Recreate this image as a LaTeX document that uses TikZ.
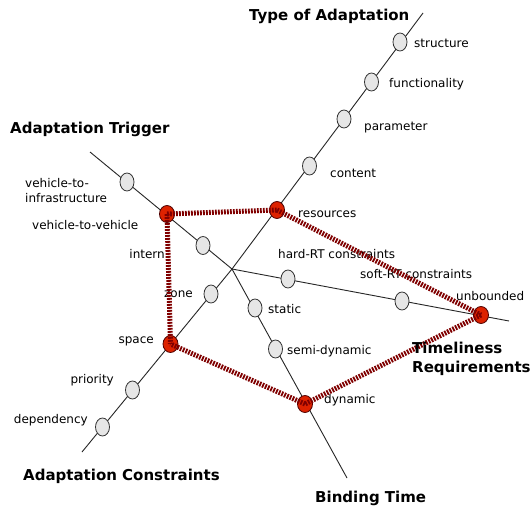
\documentclass[tikz,border=0pt]{standalone}
\usepackage{fontspec}
\setmainfont{DejaVu Sans}
\usetikzlibrary{shapes.geometric}
\definecolor{dred}{HTML}{800000}
\definecolor{rfill}{HTML}{DD2200}
\definecolor{gfill}{HTML}{E6E6E6}
\tikzset{
  ray/.style={draw=black!85, line width=0.9pt},
  gdot/.style={ellipse, draw=black!80, fill=gfill, line width=0.8pt, minimum width=14pt, minimum height=18pt, inner sep=0pt},
  rdot/.style={ellipse, draw=black!70!red, fill=rfill, line width=0.8pt, minimum width=15pt, minimum height=17pt, inner sep=0pt},
  lbl/.style={font=\fontsize{12}{15}\selectfont, inner sep=0pt},
  ttl/.style={font=\bfseries\fontsize{15}{19}\selectfont, inner sep=0pt},
  sel/.style={draw=dred, line width=5pt, dash pattern=on 1.8pt off 1.2pt},
}
\begin{document}
\begin{tikzpicture}[x=1pt,y=-1pt]
\useasboundingbox[fill=white] (0,0) rectangle (532,508);
% axes
\coordinate (c) at (232,269);
\coordinate (eT) at (423,13);
\coordinate (eC) at (82,452);
\coordinate (eG) at (90,152);
\coordinate (eB) at (347,478);
\coordinate (eR) at (509,321);
\draw[ray] (c) -- (eT);
\draw[ray] (c) -- (eC);
\draw[ray] (c) -- (eG);
\draw[ray] (c) -- (eB);
\draw[ray] (c) -- (eR);
% Type of Adaptation
\node[gdot] (structure) at (400,42) {};
\node[gdot] (functionality) at (371.5,82) {};
\node[gdot] (parameter) at (344,119) {};
\node[gdot] (content) at (309.5,166) {};
\node[rdot] (resources) at (277,210) {};
% Adaptation Constraints
\node[gdot] (zone) at (211,294) {};
\node[rdot] (space) at (170.5,344) {};
\node[gdot] (priority) at (132.5,390) {};
\node[gdot] (dependency) at (102.5,427) {};
% Adaptation Trigger
\node[gdot] (vtoi) at (127,182) {};
\node[rdot] (vtov) at (167,214) {};
\node[gdot] (intern) at (203,245.5) {};
% Binding Time
\node[gdot] (static) at (255,308) {};
\node[gdot] (semidyn) at (275.5,349) {};
\node[rdot] (dynamic) at (305,404) {};
% Timeliness
\node[gdot] (hardrt) at (288,279) {};
\node[gdot] (softrt) at (402,301) {};
\node[rdot] (unbounded) at (481,315) {};
% labels
\node[lbl, anchor=base west] (lstructure) at (414,48) {structure};
\node[lbl, anchor=base west] (lfunc) at (389,88) {functionality};
\node[lbl, anchor=base west] (lparam) at (364,130) {parameter};
\node[lbl, anchor=base west] (lcontent) at (330,177) {content};
\node[lbl, anchor=base west] (lres) at (298,217) {resources};
\node[lbl, anchor=base west] (lhard) at (278,258) {hard-RT constraints};
\node[lbl, anchor=base west] (lsoft) at (360,278) {soft-RT constraints};
\node[lbl, anchor=base west] (lunb) at (456,300) {unbounded};
\node[lbl, anchor=base west] (lstatic) at (268,313) {static};
\node[lbl, anchor=base west] (lsemi) at (287,354) {semi-dynamic};
\node[lbl, anchor=base west] (ldyn) at (324,403) {dynamic};
\node[lbl, anchor=base east] (lintern) at (165,258) {intern};
\node[lbl, anchor=base west] (lvtov) at (32,229) {vehicle-to-vehicle};
\node[lbl, anchor=base west, align=left] (lvtoi) at (25,202) {vehicle-to-\\infrastructure};
\node[lbl, anchor=base east] (lzone) at (193,297) {zone};
\node[lbl, anchor=base east] (lspace) at (154,343) {space};
\node[lbl, anchor=base east] (lprio) at (114,383) {priority};
\node[lbl, anchor=base east] (ldep) at (88,423) {dependency};
% titles
\node[ttl, anchor=base west] (tType) at (249,21) {Type of Adaptation};
\node[ttl, anchor=base west] (tTrig) at (10,133) {Adaptation Trigger};
\node[ttl, anchor=base west] (tCons) at (23,480) {Adaptation Constraints};
\node[ttl, anchor=base west] (tBind) at (315,502) {Binding Time};
% selected configuration
\draw[sel] (vtov.center) -- (resources.center);
\draw[sel] (vtov.center) -- (space.center);
\draw[sel] (resources.center) -- (unbounded.center);
\draw[sel] (unbounded.center) -- (dynamic.center);
\draw[sel] (dynamic.center) -- (space.center);
\node[ttl, anchor=base west, align=left] (tTime) at (412,372) {Timeliness\\Requirements};
\end{tikzpicture}
\end{document}
